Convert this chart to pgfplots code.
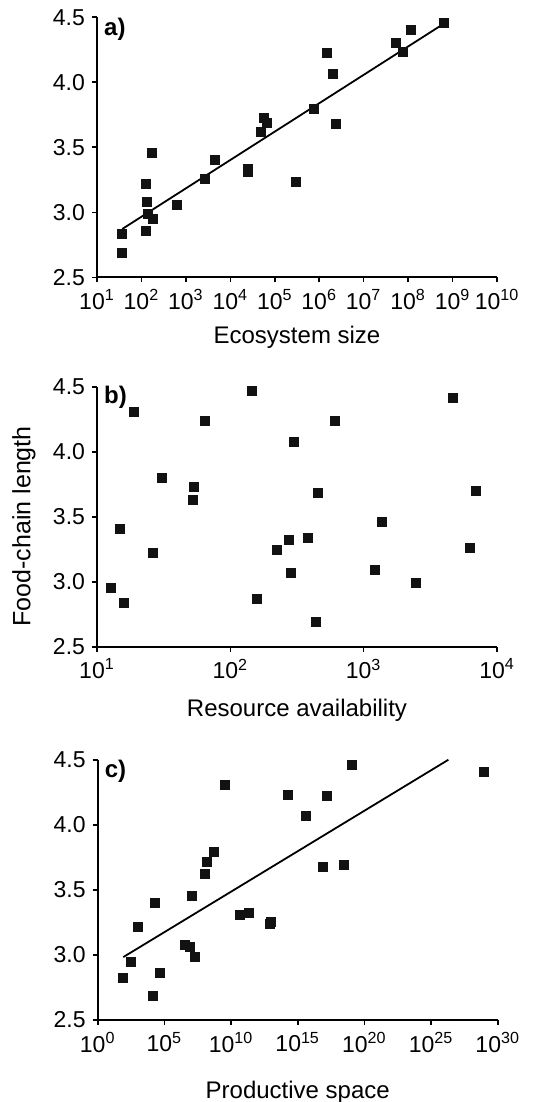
\documentclass[border=0pt]{standalone}
\usepackage{fontspec}
\setmainfont{Liberation Sans}
\usepackage{pgfplots}
\pgfplotsset{compat=1.18}

\pgfplotsset{
  panel/.style={
    scale only axis, width=200pt, height=130pt,
    xminorticks=false,
    ymin=2.5, ymax=4.5, ytick={2.5,3,3.5,4,4.5},
    yticklabels={2.5,3.0,3.5,4.0,4.5},
    axis x line=bottom, axis y line=left, axis line style={-, line width=0.9pt},
    tick align=outside, major tick length=2.5pt,
    tick style={line width=0.8pt, black},
    ticklabel style={font=\fontsize{11.5}{13}\selectfont},
    label style={font=\fontsize{12}{14}\selectfont},
    clip=false,
  },
  pts/.style={only marks, mark=square*, mark size=2.25pt, black!93},
  fit/.style={no marks, black, line width=0.9pt},
}

\begin{document}
\begin{tikzpicture}
\useasboundingbox (-48.5pt,138.65pt) rectangle (222.5pt,-412.35pt);

% a) ecosystem size
\begin{semilogxaxis}[panel, at={(0pt,0pt)}, anchor=south west,
  xmin=10, xmax=1e10,
  xtick={1e1,1e2,1e3,1e4,1e5,1e6,1e7,1e8,1e9,1e10},
  xticklabels={10\textsuperscript{1},10\textsuperscript{2},10\textsuperscript{3},10\textsuperscript{4},10\textsuperscript{5},10\textsuperscript{6},10\textsuperscript{7},10\textsuperscript{8},10\textsuperscript{9},10\textsuperscript{10}},
  xlabel={Ecosystem size},
  xlabel style={at={(axis description cs:0.5,-0.254)}, anchor=base},
]
\addplot[pts] coordinates {
(6.53e8,4.457) (1.161e8,4.405) (5.333e7,4.303) (7.516e7,4.230) (1.489e6,4.226)
(2.032e6,4.066) (7.447e5,3.794) (2.415e6,3.681) (5.768e4,3.725) (6.637e4,3.691)
(4.764e4,3.622) (1.758e2,3.455) (4.550e3,3.401) (2.518e4,3.332) (2.427e4,3.309)
(2.704e3,3.260) (3.034e5,3.234) (1.288e2,3.219) (1.309e2,3.082) (6.339e2,3.059)
(1.409e2,2.990) (1.854e2,2.947) (1.288e2,2.859) (3.715e1,2.831) (3.715e1,2.685)
};
\addplot[fit] coordinates {(3.715e1,2.872) (6.3e8,4.45)};
\node[anchor=north west, inner sep=0pt, font=\fontsize{12}{14}\selectfont\bfseries]
  at (rel axis cs:0.017,1.0) {a)};
\end{semilogxaxis}

% b) resource availability
\begin{semilogxaxis}[panel, at={(0pt,-184.7pt)}, anchor=south west,
  xmin=10, xmax=1e4,
  xtick={1e1,1e2,1e3,1e4},
  xticklabels={10\textsuperscript{1},10\textsuperscript{2},10\textsuperscript{3},10\textsuperscript{4}},
  xlabel={Resource availability},
  xlabel style={at={(axis description cs:0.5,-0.267)}, anchor=base},
  ylabel={Food-chain length},
  ylabel style={at={(axis description cs:-0.1825,0.463)}, anchor=center, rotate=0,
    font=\fontsize{12.5}{14}\selectfont},
]
\addplot[pts] coordinates {
(144.9,4.469) (4677,4.417) (19.05,4.306) (65.0,4.239) (605,4.239)
(301,4.077) (30.6,3.798) (53.2,3.731) (52.2,3.630) (451,3.685)
(6918,3.695) (1380,3.463) (14.96,3.409) (379,3.339) (273,3.319)
(223,3.241) (6237,3.262) (26.3,3.221) (12.74,2.952) (16.03,2.836)
(157,2.867) (286,3.065) (1222,3.088) (2455,2.987) (436,2.691)
};
\node[anchor=north west, inner sep=0pt, font=\fontsize{12}{14}\selectfont\bfseries]
  at (rel axis cs:0.017,1.005) {b)};
\end{semilogxaxis}

% c) productive space
\begin{semilogxaxis}[panel, at={(0.35pt,-371.35pt)}, anchor=south west,
  xmin=1, xmax=1e30,
  xtick={1,1e5,1e10,1e15,1e20,1e25,1e30},
  xticklabels={10\textsuperscript{0},10\textsuperscript{5},10\textsuperscript{10},10\textsuperscript{15},10\textsuperscript{20},10\textsuperscript{25},10\textsuperscript{30}},
  xlabel={Productive space},
  xlabel style={at={(axis description cs:0.5,-0.30)}, anchor=base},
]
\addplot[pts] coordinates {
(1e29,4.407) (1.12e19,4.461) (3.72e9,4.305) (1.78e14,4.232) (1.51e17,4.227)
(4.27e15,4.068) (5.62e8,3.790) (1.66e8,3.720) (1.07e8,3.624) (7.94e16,3.681)
(2.82e18,3.692) (1.12e7,3.455) (2.0e4,3.401) (4.68e10,3.311) (2.34e11,3.326)
(1e13,3.256) (8.51e12,3.238) (1e3,3.220) (3.55e6,3.079) (8.32e6,3.062)
(2.0e7,2.987) (316,2.946) (4.68e4,2.861) (83.2,2.827) (1.41e4,2.683)
};
\addplot[fit] coordinates {(83.2,2.984) (2.0e26,4.502)};
\node[anchor=north west, inner sep=0pt, font=\fontsize{12}{14}\selectfont\bfseries]
  at (rel axis cs:0.017,1.0) {c)};
\end{semilogxaxis}
\end{tikzpicture}
\end{document}
